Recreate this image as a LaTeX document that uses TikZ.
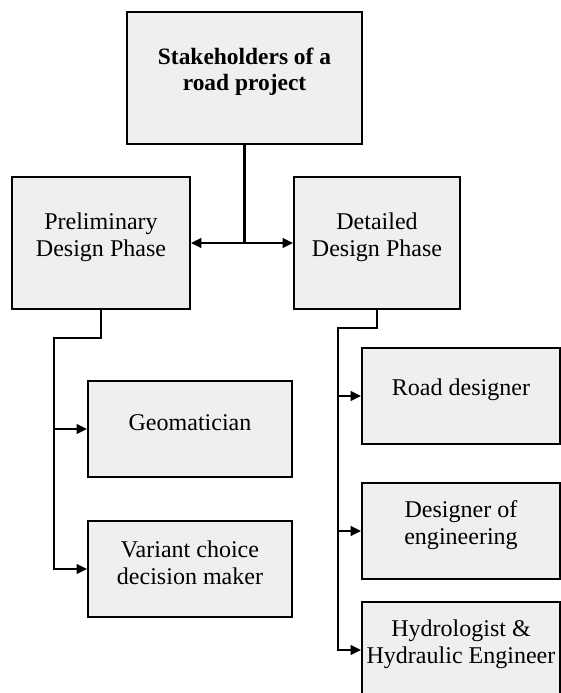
\documentclass[tikz,border=0pt]{standalone}
\usepackage{fontspec}
\setmainfont{Liberation Serif}
\usetikzlibrary{arrows.meta}
\definecolor{boxgray}{RGB}{239,239,239}

\begin{document}
\begin{tikzpicture}[x=0.03cm, y=-0.03cm, line width=1.8pt, >={Triangle[length=3.1mm,width=2.9mm]},
  phase box/.style={draw, fill=boxgray, minimum height=3.96cm},
  role box/.style={draw, fill=boxgray, minimum height=2.88cm, minimum width=5.94cm},
  role text/.style={align=center, font=\fontsize{20.5}{23}\selectfont},
  title text/.style={align=center, font=\bfseries\fontsize{20}{22}\selectfont}]
\useasboundingbox (0,0) rectangle (561,693);
\clip (0,0) rectangle (561,693);

% boxes
\node[phase box, minimum width=7.05cm] (top) at (244.5,78) {};
\node[phase box, minimum width=5.34cm] (pre) at (101,243) {};
\node[phase box, minimum width=4.98cm] (det) at (377,243) {};
\node[role box, minimum width=6.12cm] (geo) at (190,429) {};
\node[role box, minimum width=6.12cm] (var) at (190,569) {};
\node[role box] (road) at (461,396) {};
\node[role box] (eng) at (461,531) {};
\node[role box] (hyd) at (461,650) {};

% texts
\node[title text] (topT) at ([yshift=0.18cm]top.center) {Stakeholders of a\\road project};
\node[role text] (preT) at ([yshift=0.18cm]pre.center) {Preliminary\\Design Phase};
\node[role text] (detT) at ([yshift=0.18cm]det.center) {Detailed\\Design Phase};
\node[role text] (geoT) at ([yshift=0.18cm]geo.center) {Geomatician};
\node[role text] (varT) at ([yshift=0.18cm]var.center) {Variant choice\\decision maker};
\node[role text] (roadT) at ([yshift=0.18cm]road.center) {Road designer};
\node[role text] (engT) at ([yshift=0.18cm]eng.center) {Designer of\\engineering};
\node[role text] (hydT) at ([yshift=0.18cm]hyd.center) {Hydrologist \&\\Hydraulic Engineer};

% connectors
\draw (top.south) -- (top.south |- pre.east) coordinate (split);
\draw[->] (split) -- (pre.east);
\draw[->] (split) -- (det.west);

\draw[->] (pre.south) |- (54,338) coordinate (preBend) |- (var.west);
\draw[->] (preBend |- geo.west) -- (geo.west);

\draw[->] (det.south) |- (338,328) coordinate (detBend) |- (hyd.west);
\draw[->] (detBend |- road.west) -- (road.west);
\draw[->] (detBend |- eng.west) -- (eng.west);
\end{tikzpicture}
\end{document}
